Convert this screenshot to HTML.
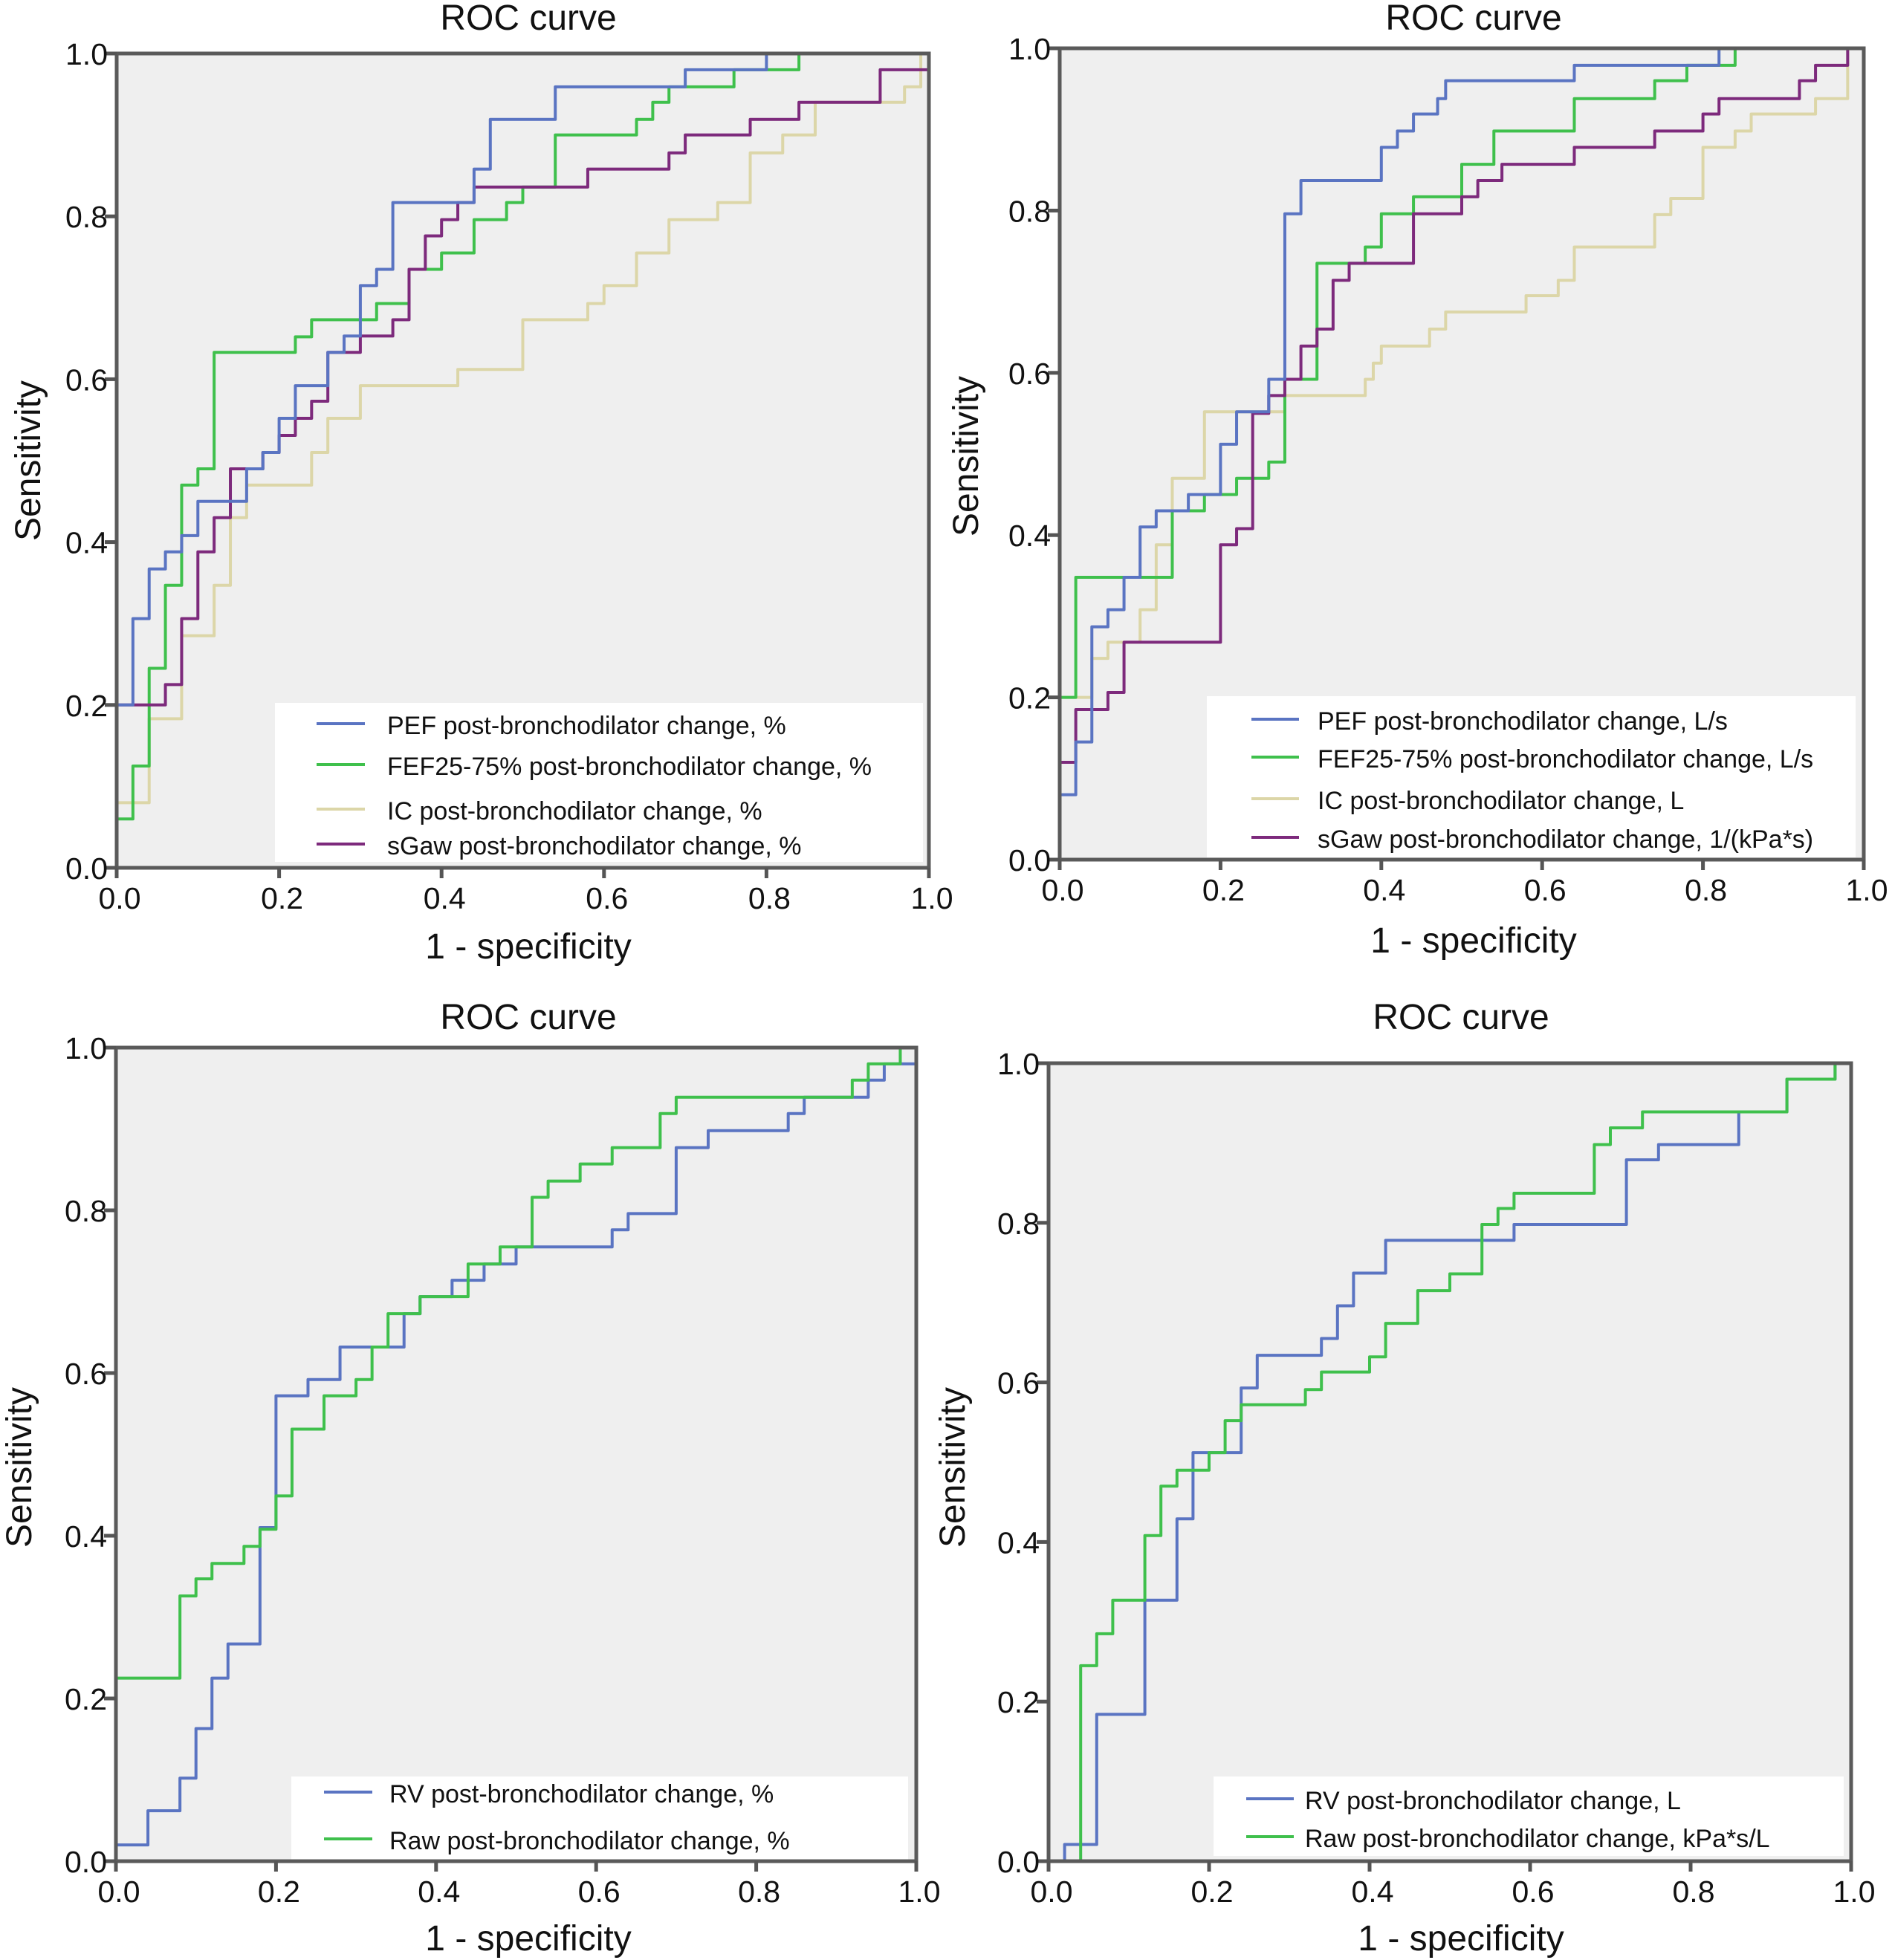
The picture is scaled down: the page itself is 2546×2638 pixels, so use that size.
<!DOCTYPE html>
<html><head><meta charset="utf-8">
<style>
html,body{margin:0;padding:0;background:#fff;}
svg{display:block;font-family:"Liberation Sans",Arial,sans-serif;}
</style></head>
<body>
<svg id="root" width="2546" height="2638" viewBox="0 0 2546 2638" xmlns="http://www.w3.org/2000/svg"></svg>
<script>
// ---- Data (step curves: x = 1-specificity, y = sensitivity) ----
const xTicks = [0.0,0.2,0.4,0.6,0.8,1.0];
const yTicks = [0.0,0.2,0.4,0.6,0.8,1.0];
const tickLabels = ["0.0","0.2","0.4","0.6","0.8","1.0"];

// Panel 1
const p1PefX = [0,0,0.02,0.04,0.06,0.08,0.10,0.16,0.18,0.20,0.22,0.26,0.28,0.30,0.32,0.34,0.44,0.46,0.54,0.70,0.80,1.0];
const p1PefY = [0,0.2,0.306,0.367,0.388,0.408,0.45,0.49,0.51,0.552,0.592,0.633,0.653,0.715,0.735,0.817,0.858,0.919,0.959,0.98,1.0,1.0];
const p1FefX = [0,0,0.02,0.04,0.06,0.08,0.10,0.12,0.22,0.24,0.32,0.36,0.40,0.44,0.48,0.50,0.54,0.64,0.66,0.68,0.76,0.84,1.0];
const p1FefY = [0,0.06,0.125,0.245,0.347,0.47,0.49,0.633,0.652,0.673,0.693,0.735,0.755,0.796,0.817,0.836,0.9,0.919,0.94,0.959,0.98,1.0,1.0];
const p1IcX = [0,0,0.04,0.08,0.12,0.14,0.16,0.24,0.26,0.30,0.42,0.50,0.58,0.60,0.64,0.68,0.74,0.78,0.82,0.86,0.97,0.99,1.0];
const p1IcY = [0,0.08,0.183,0.285,0.347,0.43,0.47,0.51,0.552,0.592,0.612,0.673,0.693,0.715,0.755,0.796,0.817,0.878,0.9,0.94,0.959,1.0,1.0];
const p1SgX = [0,0,0.06,0.08,0.10,0.12,0.14,0.18,0.20,0.22,0.24,0.26,0.30,0.34,0.36,0.38,0.40,0.42,0.44,0.58,0.68,0.70,0.78,0.84,0.94,1.0];
const p1SgY = [0,0.2,0.225,0.306,0.388,0.43,0.49,0.51,0.531,0.552,0.573,0.633,0.653,0.673,0.735,0.776,0.796,0.817,0.836,0.858,0.878,0.9,0.919,0.94,0.98,1.0];

// Panel 2
const p2PefX = [0,0,0.02,0.04,0.06,0.08,0.10,0.12,0.16,0.20,0.22,0.26,0.28,0.30,0.40,0.42,0.44,0.47,0.48,0.64,0.82,1.0];
const p2PefY = [0,0.08,0.145,0.287,0.308,0.348,0.41,0.43,0.45,0.512,0.552,0.592,0.796,0.837,0.878,0.898,0.919,0.938,0.96,0.979,1.0,1.0];
const p2FefX = [0,0,0.02,0.14,0.18,0.22,0.26,0.28,0.32,0.38,0.40,0.44,0.50,0.54,0.64,0.74,0.78,0.84,1.0];
const p2FefY = [0,0.2,0.348,0.43,0.45,0.47,0.49,0.592,0.735,0.755,0.796,0.817,0.857,0.898,0.938,0.96,0.979,1.0,1.0];
const p2IcX = [0,0,0.02,0.04,0.06,0.10,0.12,0.14,0.18,0.28,0.38,0.39,0.40,0.46,0.48,0.58,0.62,0.64,0.74,0.76,0.80,0.80,0.84,0.86,0.94,0.98,0.98,1.0];
const p2IcY = [0,0.2,0.2,0.248,0.268,0.308,0.388,0.47,0.552,0.572,0.592,0.612,0.633,0.654,0.675,0.695,0.714,0.755,0.795,0.815,0.837,0.878,0.898,0.919,0.938,0.96,1.0,1.0];
const p2SgX = [0,0,0.02,0.06,0.08,0.20,0.22,0.24,0.26,0.28,0.30,0.32,0.34,0.36,0.44,0.50,0.52,0.55,0.64,0.74,0.80,0.82,0.92,0.94,0.98,1.0];
const p2SgY = [0,0.12,0.185,0.206,0.268,0.388,0.408,0.55,0.572,0.592,0.633,0.654,0.714,0.735,0.796,0.817,0.837,0.857,0.878,0.898,0.919,0.938,0.96,0.979,1.0,1.0];

// Panel 3
const p3RvX = [0,0,0.04,0.08,0.10,0.12,0.14,0.18,0.18,0.20,0.24,0.28,0.36,0.36,0.38,0.42,0.46,0.50,0.62,0.64,0.70,0.74,0.84,0.86,0.94,0.96,1.0];
const p3RvY = [0,0.02,0.062,0.102,0.163,0.225,0.267,0.326,0.41,0.572,0.592,0.632,0.654,0.673,0.694,0.714,0.734,0.755,0.776,0.796,0.877,0.898,0.919,0.939,0.96,0.98,1.0];
const p3RawX = [0,0,0.08,0.10,0.12,0.16,0.18,0.20,0.22,0.26,0.30,0.32,0.34,0.38,0.44,0.48,0.52,0.54,0.58,0.62,0.68,0.70,0.92,0.94,0.98,1.0];
const p3RawY = [0,0.225,0.326,0.347,0.366,0.387,0.408,0.449,0.531,0.572,0.592,0.632,0.673,0.694,0.734,0.755,0.816,0.836,0.857,0.877,0.919,0.939,0.96,0.98,1.0,1.0];

// Panel 4
const p4RvX = [0,0.02,0.06,0.12,0.16,0.16,0.18,0.24,0.26,0.34,0.36,0.38,0.42,0.58,0.72,0.76,0.86,0.92,0.98,1.0];
const p4RvY = [0,0.021,0.184,0.327,0.368,0.429,0.512,0.593,0.634,0.655,0.696,0.737,0.778,0.798,0.879,0.898,0.939,0.98,1.0,1.0];
const p4RawX = [0,0.04,0.06,0.08,0.12,0.14,0.16,0.20,0.22,0.24,0.32,0.34,0.40,0.42,0.46,0.50,0.54,0.56,0.58,0.68,0.70,0.74,0.92,0.98,1.0];
const p4RawY = [0,0.245,0.285,0.327,0.408,0.47,0.49,0.512,0.552,0.572,0.591,0.613,0.632,0.674,0.715,0.736,0.798,0.818,0.837,0.898,0.919,0.939,0.98,1.0,1.0];

const BLUE="#5a74c2", GREEN="#3fc04c", TAN="#dcd6a8", PURPLE="#7d2a7c";

const panels = [
 {name:"panel-top-left", L:157,T:72,R:1250,B:1168, title:[711,40], xt:[711,1290], yt:[37,620],
  legend:{x:370,y:946,w:872,h:214,lx:426,lx2:491,tx:521,rows:[976,1031,1091,1138]},
  series:[["PEF post-bronchodilator change, %",BLUE,p1PefX,p1PefY],["FEF25-75% post-bronchodilator change, %",GREEN,p1FefX,p1FefY],["IC post-bronchodilator change, %",TAN,p1IcX,p1IcY],["sGaw post-bronchodilator change, %",PURPLE,p1SgX,p1SgY]],
  draw:[2,1,3,0]},
 {name:"panel-top-right", L:1426,T:65,R:2508,B:1157, title:[1983,40], xt:[1983,1282], yt:[1299,614],
  legend:{x:1624,y:937,w:873,h:217,lx:1684,lx2:1748,tx:1773,rows:[970,1021,1077,1129]},
  series:[["PEF post-bronchodilator change, L/s",BLUE,p2PefX,p2PefY],["FEF25-75% post-bronchodilator change, L/s",GREEN,p2FefX,p2FefY],["IC post-bronchodilator change, L",TAN,p2IcX,p2IcY],["sGaw post-bronchodilator change, 1/(kPa*s)",PURPLE,p2SgX,p2SgY]],
  draw:[2,1,3,0]},
 {name:"panel-bottom-left", L:156,T:1410,R:1233,B:2505, title:[711,1385], xt:[711,2625], yt:[25,1975],
  legend:{x:392,y:2391,w:830,h:112,lx:436,lx2:501,tx:524,rows:[2414,2477]},
  series:[["RV post-bronchodilator change, %",BLUE,p3RvX,p3RvY],["Raw post-bronchodilator change, %",GREEN,p3RawX,p3RawY]],
  draw:[0,1]},
 {name:"panel-bottom-right", L:1411,T:1431,R:2491,B:2505, title:[1966,1385], xt:[1966,2625], yt:[1281,1975],
  legend:{x:1633,y:2391,w:848,h:107,lx:1677,lx2:1741,tx:1756,rows:[2423,2474]},
  series:[["RV post-bronchodilator change, L",BLUE,p4RvX,p4RvY],["Raw post-bronchodilator change, kPa*s/L",GREEN,p4RawX,p4RawY]],
  draw:[0,1]}
];

const NS="http://www.w3.org/2000/svg";
const root=document.getElementById('root');
function mk(tag,attrs,parent){const e=document.createElementNS(NS,tag);for(const k in attrs)e.setAttribute(k,attrs[k]);(parent||root).appendChild(e);return e;}

panels.forEach(p=>{
  const g=mk('g',{});
  
  
  const sx=v=>p.L+v*(p.R-p.L), sy=v=>p.B-v*(p.B-p.T);
  const bg=mk('rect',{x:p.L,y:p.T,width:p.R-p.L,height:p.B-p.T,fill:"#efefef"},g);
  
  
  const lg=mk('g',{},g);
  
  
  mk('rect',{x:p.legend.x,y:p.legend.y,width:p.legend.w,height:p.legend.h,fill:"#ffffff"},lg);
  p.draw.forEach(i=>{
    const s=p.series[i], X=s[2], Y=s[3];
    let d="M"+sx(X[0])+" "+sy(Y[0]);
    for(let k=1;k<X.length;k++){d+=" L"+sx(X[k])+" "+sy(Y[k-1])+" L"+sx(X[k])+" "+sy(Y[k]);}
    const path=mk('path',{d:d,fill:"none",stroke:s[1],"stroke-width":4,"stroke-linejoin":"round"},g);
    
    
  });
  p.series.forEach((s,i)=>{
    const y=p.legend.rows[i];
    const e=mk('g',{},lg);
    
    
    mk('line',{x1:p.legend.lx,x2:p.legend.lx2,y1:y-2,y2:y-2,stroke:s[1],"stroke-width":4},e);
    const t=mk('text',{x:p.legend.tx,y:y+12,"font-size":34,fill:"#111"},e);
    t.textContent=s[0];
  });
  mk('rect',{x:p.L,y:p.T,width:p.R-p.L,height:p.B-p.T,fill:"none",stroke:"#5a5a5a","stroke-width":5},g);
  xTicks.forEach((v,i)=>{
    const x=sx(v);
    mk('line',{x1:x,x2:x,y1:p.B,y2:p.B+14,stroke:"#555","stroke-width":5},g);
    const t=mk('text',{x:x+4,y:p.B+55,"font-size":41,"text-anchor":"middle",fill:"#111"},g);
    
    
    t.textContent=tickLabels[i];
  });
  yTicks.forEach((v,i)=>{
    const y=sy(v);
    mk('line',{x1:p.L-16,x2:p.L,y1:y,y2:y,stroke:"#555","stroke-width":5},g);
    const t=mk('text',{x:p.L-12,y:y+15,"font-size":41,"text-anchor":"end",fill:"#111"},g);
    
    
    t.textContent=tickLabels[i];
  });
  const ti=mk('text',{x:p.title[0],y:p.title[1],"font-size":48,"text-anchor":"middle",fill:"#111"},g);
  
  
  ti.textContent="ROC curve";
  const xa=mk('text',{x:p.xt[0],y:p.xt[1],"font-size":48,"text-anchor":"middle",fill:"#111"},g);
  
  
  xa.textContent="1 - specificity";
  const ya=mk('text',{x:p.yt[0],y:p.yt[1],"font-size":48,"text-anchor":"middle",fill:"#111",transform:"rotate(-90 "+p.yt[0]+" "+p.yt[1]+")",dy:"17"},g);
  
  
  ya.textContent="Sensitivity";
});
</script>
</body></html>
